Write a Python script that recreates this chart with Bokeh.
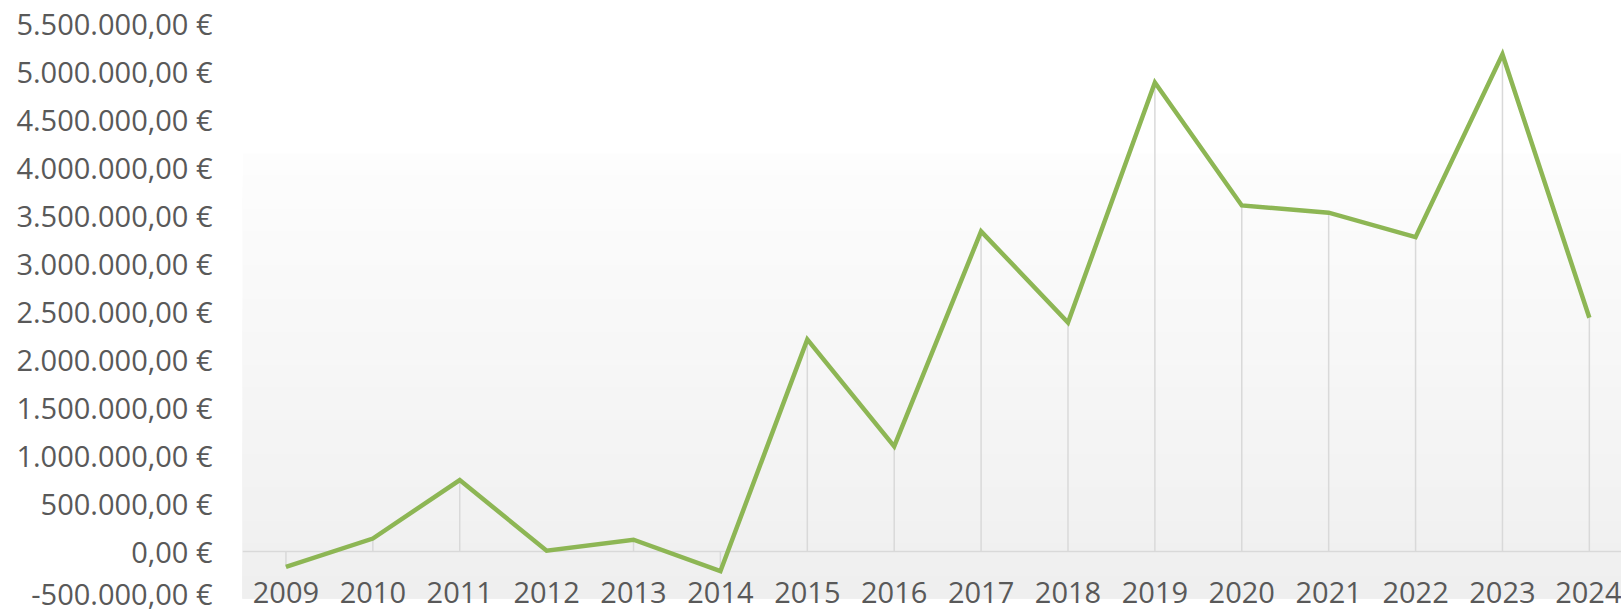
from bokeh.plotting import figure
from bokeh.models import Range1d, FixedTicker, BoxAnnotation, Span
from bokeh.embed import file_html
from bokeh.resources import INLINE

# ---- data ----
years = [2009, 2010, 2011, 2012, 2013, 2014, 2015, 2016,
         2017, 2018, 2019, 2020, 2021, 2022, 2023, 2024]
values = [-160000, 135000, 745000, 8000, 123000, -205000, 2210000, 1095000,
          3335000, 2385000, 4885000, 3605000, 3530000, 3275000, 5180000, 2435000]
y_ticks = [-500000, 0, 500000, 1000000, 1500000, 2000000, 2500000, 3000000,
           3500000, 4000000, 4500000, 5000000, 5500000]


def eur(v):
    s = f"{abs(v):,.2f}".replace(",", "X").replace(".", ",").replace("X", ".")
    return ("-" if v < 0 else "") + s + " €"


idx = list(range(len(years)))

FONT = "Open Sans"
TXT = "#595959"

p = figure(frame_width=1379, frame_height=589,
           min_border_left=242, min_border_right=0,
           min_border_top=23, min_border_bottom=0,
           x_range=Range1d(-0.5, 15.37), y_range=Range1d(-635000, 5500000),
           output_backend="svg", toolbar_location=None,
           background_fill_color="white", border_fill_color="white")
p.outline_line_color = None
p.grid.visible = False

# background gradient (decoration)
steps = 40
g_top, g_bot = 4146000, -490000
c_top, c_bot = 253, 239
for i in range(steps):
    t = g_top - (g_top - g_bot) * i / steps
    c = round(c_top + (c_bot - c_top) * i / (steps - 1))
    col = "#%02x%02x%02x" % (c, c, c)
    p.add_layout(BoxAnnotation(bottom=g_bot, top=t, fill_color=col, fill_alpha=1,
                               line_alpha=0, level="underlay"))

p.add_layout(Span(location=0, dimension="width", line_color="#d9d9d9",
                  line_width=1.5, level="underlay"))

# drop lines
p.segment(x0=idx, y0=[0] * len(idx), x1=idx, y1=values,
          line_color="#d9d9d9", line_width=1.5)

# main line
p.line(idx, values, line_color="#8DB654", line_width=4.5, line_join="miter")

# y axis
ya = p.yaxis[0]
ya.ticker = FixedTicker(ticks=y_ticks)
ya.major_label_overrides = {t: eur(t) for t in y_ticks}
ya.axis_line_color = None
ya.major_tick_line_color = None
ya.minor_tick_line_color = None
ya.major_tick_out = 0
ya.major_tick_in = 0
ya.major_label_standoff = 30
ya.major_label_text_font = FONT
ya.major_label_text_font_size = "29px"
ya.major_label_text_color = TXT

# x axis
xa = p.xaxis[0]
xa.ticker = FixedTicker(ticks=idx)
xa.major_label_overrides = {i: str(y) for i, y in zip(idx, years)}
xa.fixed_location = -294000
xa.axis_line_color = None
xa.major_tick_line_color = None
xa.minor_tick_line_color = None
xa.major_tick_out = 0
xa.major_tick_in = 0
xa.major_label_standoff = 2
xa.major_label_text_font = FONT
xa.major_label_text_font_size = "29px"
xa.major_label_text_color = TXT

open("out.html", "w").write(file_html(p, INLINE))
